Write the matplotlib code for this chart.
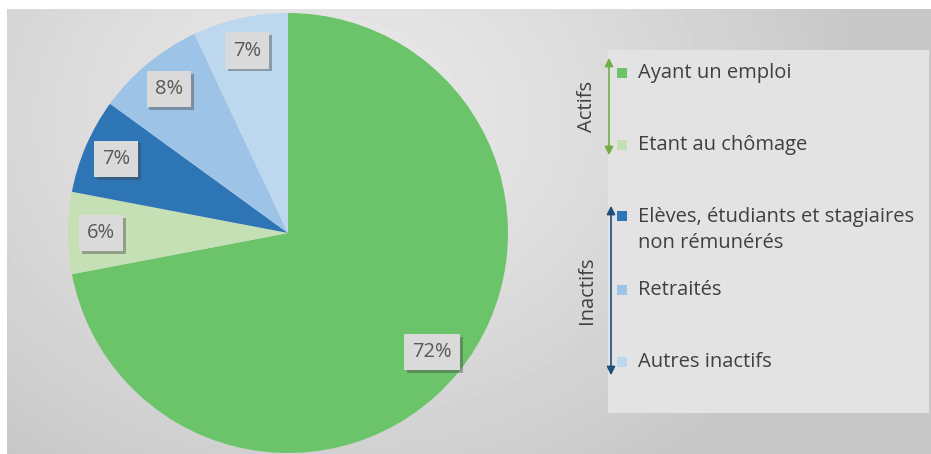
import numpy as np
import matplotlib
matplotlib.use("Agg")
import matplotlib.pyplot as plt
from matplotlib.patches import Rectangle, FancyArrowPatch
import matplotlib.patheffects as pe

categories = ["Ayant un emploi", "Etant au chômage",
              "Elèves, étudiants et stagiaires\nnon rémunérés",
              "Retraités", "Autres inactifs"]
values = [72, 6, 7, 8, 7]
colors = ["#6cc46a", "#c5e0b4", "#2e75b6", "#9dc3e6", "#bdd7ee"]
groups = ["Actifs", "Inactifs"]
group_colors = ["#70ad47", "#1f4e79"]

W, H = 931, 454
fig = plt.figure(figsize=(W / 100, H / 100), dpi=100)
fig.patch.set_facecolor("white")
FONT = "Open Sans"

def fx(x):
    return x / W

def fy(y):
    return 1 - y / H

# background with soft vignette
bg = fig.add_axes([fx(7), 0, 1 - fx(7), fy(9)])
bg.set_axis_off()
yy, xx = np.mgrid[0:445, 0:924]
d = np.sqrt(((xx - 330) / 520.0) ** 2 + ((yy - 110) / 420.0) ** 2)
img = 0.915 - 0.13 * np.clip(d, 0, 1) ** 1.3
bg.imshow(img, cmap="gray", vmin=0, vmax=1, aspect="auto", interpolation="bilinear")

# legend panel
panel = Rectangle((fx(608), fy(413)), fx(929) - fx(608), fy(50) - fy(413),
                  transform=fig.transFigure, fc="#e3e3e3", ec="none", zorder=1)
fig.patches.append(panel)

# pie
cx, cy, R = 288, 233, 220
ax = fig.add_axes([fx(cx - R), fy(cy + R), 2 * R / W, 2 * R / H])
ax.set_axis_off()
wedges, texts, autotexts = ax.pie(values, colors=colors, startangle=90, counterclock=False,
                                  autopct=lambda p: f"{p:.0f}%", pctdistance=0.85,
                                  wedgeprops=dict(linewidth=0))
ax.set_xlim(-1, 1)
ax.set_ylim(-1, 1)
for t in autotexts:
    t.set_fontfamily(FONT)
    t.set_fontsize(14.5)
    t.set_color("#595959")
    t.set_bbox(dict(boxstyle="square,pad=0.4", fc="#dadada", ec="none"))
    t.get_bbox_patch().set_path_effects([
        pe.withSimplePatchShadow(offset=(2, -2), shadow_rgbFace="#404040", alpha=0.4),
        pe.Normal()])

# legend entries
rows = [73, 145, 216, 290, 362]
for lab, col, y in zip(categories, colors, rows):
    fig.patches.append(Rectangle((fx(617), fy(y + 5)), 10 / W, 10 / H,
                                 transform=fig.transFigure, fc=col, ec="none", zorder=3))
    ty = y + 14 if "\n" in lab else y
    fig.text(fx(638), fy(ty), lab, fontsize=14.5, family=FONT, color="#404040",
             va="center", ha="left", linespacing=1.4, zorder=3)

# group arrows
spans = [(55, 158), (203, 378)]
xs = [609, 611]
for g, gc, (y0, y1), x in zip(groups, group_colors, spans, xs):
    fig.add_artist(FancyArrowPatch(
        (fx(x), fy(y0)), (fx(x), fy(y1)), transform=fig.transFigure,
        arrowstyle="<|-|>,head_length=5,head_width=2.5", color=gc, lw=1.2, zorder=3))
    fig.text(fx(587), fy((y0 + y1) / 2), g, rotation=90, fontsize=14.5, family=FONT,
             color="#404040", ha="center", va="center", zorder=3)

fig.savefig("out.png", dpi=100)
